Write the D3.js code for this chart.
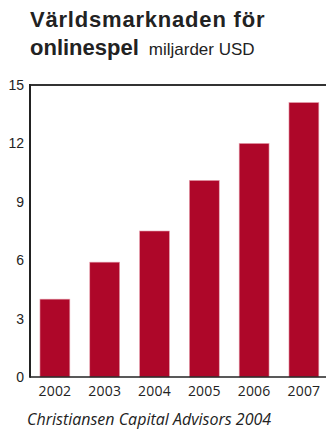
<!DOCTYPE html>
<html><head><meta charset="utf-8">
<script src="https://cdn.jsdelivr.net/npm/d3@7"></script>
<style>body{margin:0;background:#fff;}svg{display:block;}</style>
</head><body>
<script>
const years = ["2002","2003","2004","2005","2006","2007"];
const values = [4.0, 5.9, 7.5, 10.1, 12.0, 14.1];
const yTicks = [0, 3, 6, 9, 12, 15];

const W = 326, H = 430;
const pLeft = 30, pRight = 328.8, pTop = 85, pBottom = 377;
const svg = d3.select("body").append("svg").attr("width", W).attr("height", H);

const x = d3.scaleBand().domain(years).range([pLeft, pRight]).paddingInner(0.4).paddingOuter(0.2);
const y = d3.scaleLinear().domain([0, 15]).range([pBottom, pTop]);

svg.append("text").attr("x", 30).attr("y", 27).attr("font-family", "Liberation Sans, Arial, sans-serif")
  .attr("font-weight", "bold").attr("font-size", 22).attr("letter-spacing", 0.8).attr("fill", "#222").text("Världsmarknaden för");
const t2 = svg.append("text").attr("x", 30).attr("y", 54.5).attr("font-family", "Liberation Sans, Arial, sans-serif").attr("fill", "#222");
t2.append("tspan").attr("font-weight", "bold").attr("font-size", 22).text("onlinespel");
t2.append("tspan").attr("font-size", 17).attr("dx", 10).text("miljarder USD");

svg.selectAll("rect.bar").data(values).join("rect").attr("class", "bar")
  .attr("x", (d, i) => x(years[i])).attr("width", x.bandwidth())
  .attr("y", d => y(d)).attr("height", d => y(0) - y(d))
  .attr("fill", "#ae0729").attr("stroke", "#e7a3b0").attr("stroke-width", 0.6);

// frame
svg.append("line").attr("x1", pLeft).attr("x2", W).attr("y1", y(15)).attr("y2", y(15)).attr("stroke", "#333").attr("stroke-width", 2);
svg.append("line").attr("x1", pLeft).attr("x2", W).attr("y1", y(0)).attr("y2", y(0)).attr("stroke", "#222").attr("stroke-width", 1.6);
svg.append("line").attr("x1", pLeft).attr("x2", pLeft).attr("y1", y(15) - 1).attr("y2", y(0) + 0.8).attr("stroke", "#222").attr("stroke-width", 2);

const yAxis = svg.append("g").attr("transform", `translate(${pLeft},0)`)
  .call(d3.axisLeft(y).tickValues(yTicks).tickSize(0).tickPadding(6));
yAxis.select(".domain").remove();
yAxis.selectAll("text").attr("font-family", "Liberation Sans, Arial, sans-serif").attr("font-size", 14).attr("fill", "#222");

const xAxis = svg.append("g").attr("transform", `translate(0,${pBottom})`)
  .call(d3.axisBottom(x).tickSize(0).tickPadding(0));
xAxis.select(".domain").remove();
xAxis.selectAll("text").attr("dy", null).attr("y", 19)
  .attr("font-family", "Open Sans, sans-serif").attr("font-size", 14).attr("letter-spacing", 0.2).attr("fill", "#222");

svg.append("text").attr("x", 27).attr("y", 425).attr("font-family", "Open Sans, sans-serif")
  .attr("font-style", "italic").attr("font-size", 16).attr("fill", "#222").text("Christiansen Capital Advisors 2004");
</script>
</body></html>
